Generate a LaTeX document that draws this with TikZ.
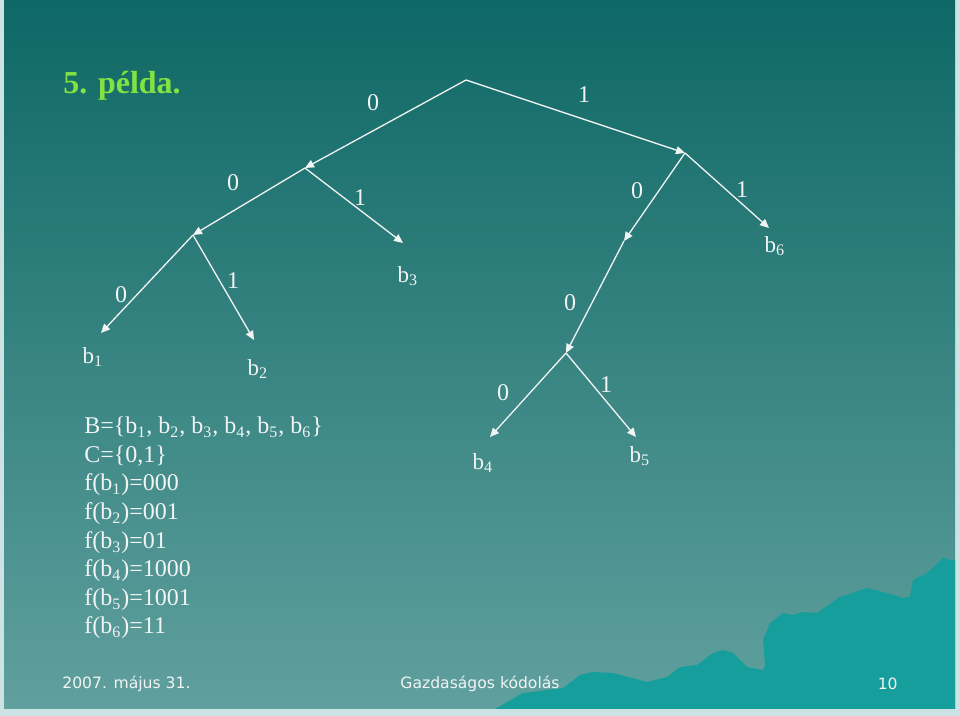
\documentclass[tikz,border=0pt]{standalone}
\usepackage{fontspec}
\setmainfont{Liberation Serif}
\newfontfamily\footfont{DejaVu Sans}
\usetikzlibrary{arrows.meta}
\definecolor{slidetop}{RGB}{14,104,101}
\definecolor{slidebot}{RGB}{96,160,158}
\definecolor{hill}{RGB}{22,158,156}
\definecolor{edgepale}{RGB}{205,226,226}
\definecolor{titlegreen}{RGB}{130,226,66}
\definecolor{ink}{RGB}{242,244,244}

\begin{document}
\begin{tikzpicture}[x=0.5pt,y=-0.5pt,
	branch/.style={draw=ink,line width=0.65pt,-{Triangle[length=4.5pt,width=4pt]}},
	bit/.style={text=ink,font=\fontsize{12}{14}\selectfont},
	leaf/.style={text=ink,font=\fontsize{11.5}{14}\selectfont},
	codeline/.style={anchor=base west,inner sep=0pt,text=ink,font=\fontsize{12}{14}\selectfont},
	foot/.style={text=ink,inner sep=0pt,font=\footfont\fontsize{7.8}{9}\selectfont}]
	% slide background
	\useasboundingbox (0,0) rectangle (960,716);
	\fill[edgepale] (0,0) rectangle (960,716);
	\shade[top color=slidetop,bottom color=slidebot] (4,1) rectangle (955,709);
	\fill[hill] (495,709) -- (523,693) -- (563,688) -- (580,675) -- (593,672) -- (613,673)
		-- (647,682) -- (667,677) -- (680,667) -- (697,665) -- (713,653) -- (723,650)
		-- (733,653) -- (747,667) -- (763,670) -- (765,665) -- (763,640) -- (770,623)
		-- (783,613) -- (793,615) -- (803,612) -- (817,613) -- (840,597) -- (867,588)
		-- (887,593) -- (903,598) -- (910,597) -- (913,580) -- (927,573) -- (943,558)
		-- (955,561) -- (955,709) -- cycle;
	\node[anchor=base west,inner sep=0pt,text=titlegreen,font=\fontsize{16}{18}\selectfont\bfseries] (title) at (63,94) {5. példa.};
	% tree
	\coordinate (root) at (466,80);
	\coordinate (n0) at (305,168);
	\coordinate (n00) at (193,235);
	\coordinate (n1) at (685,153);
	\coordinate (n10) at (624,241);
	\coordinate (n100) at (566,353);
	\coordinate (t1) at (101,333);
	\coordinate (t2) at (254,340);
	\coordinate (t3) at (403,243);
	\coordinate (t4) at (490,437);
	\coordinate (t5) at (636,437);
	\coordinate (t6) at (769,228);
	\draw[branch] (root) -- (n0);
	\draw[branch] (root) -- (n1);
	\draw[branch] (n0) -- (n00);
	\draw[branch] (n0) -- (t3);
	\draw[branch] (n00) -- (t1);
	\draw[branch] (n00) -- (t2);
	\draw[branch] (n1) -- (n10);
	\draw[branch] (n1) -- (t6);
	\draw[branch] (n10) -- (n100);
	\draw[branch] (n100) -- (t4);
	\draw[branch] (n100) -- (t5);
	\node[bit] (e0) at (373,103) {0};
	\node[bit] (e1) at (584,95) {1};
	\node[bit] (e00) at (233,183) {0};
	\node[bit] (e01) at (360,198) {1};
	\node[bit] (e000) at (121,295) {0};
	\node[bit] (e001) at (233,281) {1};
	\node[bit] (e10) at (637,191) {0};
	\node[bit] (e11) at (742,190) {1};
	\node[bit] (e100) at (570,303) {0};
	\node[bit] (e1000) at (503,393) {0};
	\node[bit] (e1001) at (606,385) {1};
	\node[leaf] (b1) at (93,357) {b\textsubscript{1}};
	\node[leaf] (b2) at (258,369) {b\textsubscript{2}};
	\node[leaf] (b3) at (408,276) {b\textsubscript{3}};
	\node[leaf] (b4) at (483,463) {b\textsubscript{4}};
	\node[leaf] (b5) at (640,456) {b\textsubscript{5}};
	\node[leaf] (b6) at (775,246) {b\textsubscript{6}};
	% code table
	\node[codeline] (setB) at (84,434) {B=\{b\textsubscript{1}, b\textsubscript{2}, b\textsubscript{3}, b\textsubscript{4}, b\textsubscript{5}, b\textsubscript{6}\}};
	\node[codeline] (setC) at (84,463) {C=\{0,1\}};
	\node[codeline] (f1) at (84,491) {f(b\textsubscript{1})=000};
	\node[codeline] (f2) at (84,520) {f(b\textsubscript{2})=001};
	\node[codeline] (f3) at (84,549) {f(b\textsubscript{3})=01};
	\node[codeline] (f4) at (84,577) {f(b\textsubscript{4})=1000};
	\node[codeline] (f5) at (84,606) {f(b\textsubscript{5})=1001};
	\node[codeline] (f6) at (84,634) {f(b\textsubscript{6})=11};
	% footer
	\node[foot,anchor=west] (date) at (62,684) {2007. május 31.};
	\node[foot] (topic) at (480,684) {Gazdaságos kódolás};
	\node[foot,anchor=east] (page) at (898,684) {10};
\end{tikzpicture}
\end{document}
